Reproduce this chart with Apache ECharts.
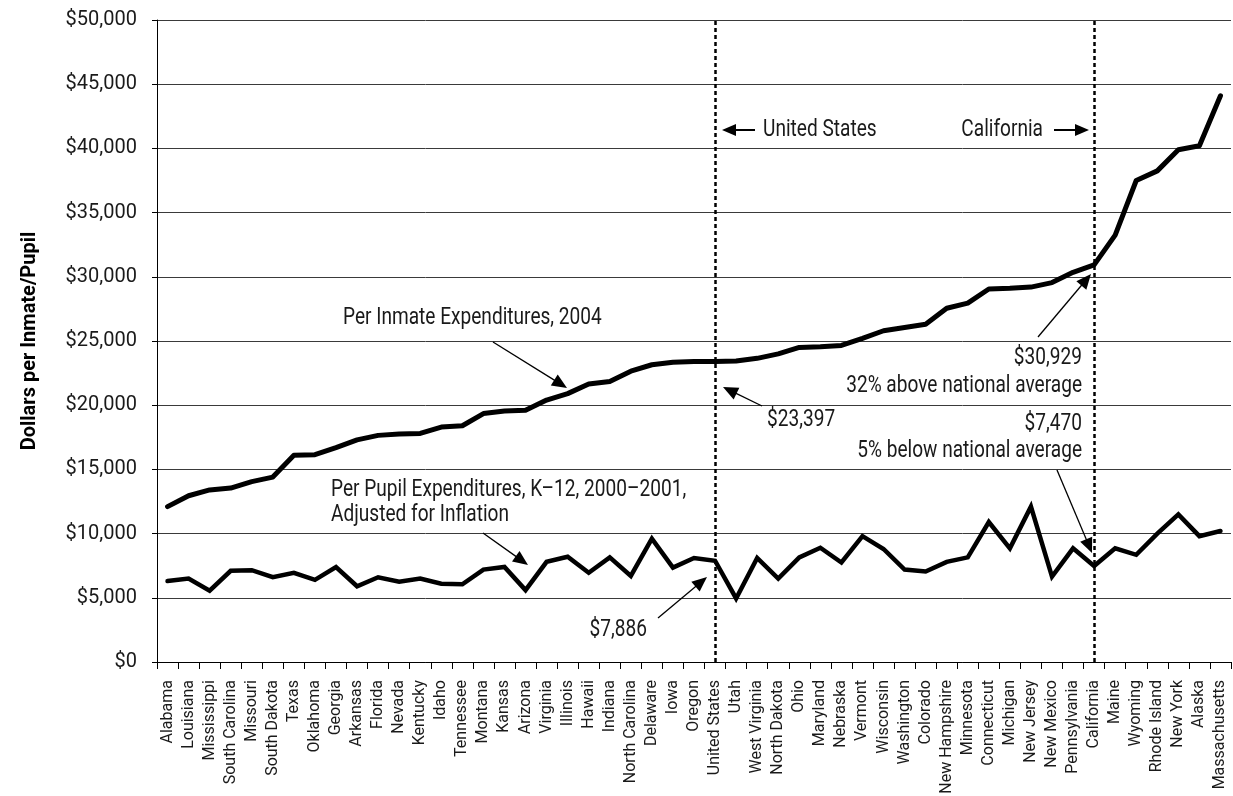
<!DOCTYPE html>
<html>
<head>
<meta charset="utf-8">
<script src="https://cdn.jsdelivr.net/npm/echarts@6/dist/echarts.min.js"></script>
<style>
  html, body { margin: 0; padding: 0; background: #fff; }
  #chart { width: 1233px; height: 796px; }
</style>
</head>
<body>
<div id="chart"></div>
<script>
const categories = ["Alabama","Louisiana","Mississippi","South Carolina","Missouri","South Dakota","Texas","Oklahoma","Georgia","Arkansas","Florida","Nevada","Kentucky","Idaho","Tennessee","Montana","Kansas","Arizona","Virginia","Illinois","Hawaii","Indiana","North Carolina","Delaware","Iowa","Oregon","United States","Utah","West Virginia","North Dakota","Ohio","Maryland","Nebraska","Vermont","Wisconsin","Washington","Colorado","New Hampshire","Minnesota","Connecticut","Michigan","New Jersey","New Mexico","Pennsylvania","California","Maine","Wyoming","Rhode Island","New York","Alaska","Massachusetts"];

const inmateValues = [12100,12950,13400,13550,14050,14400,16100,16150,16700,17300,17650,17750,17800,18300,18400,19350,19550,19600,20400,20900,21650,21850,22650,23150,23350,23400,23397,23450,23650,24000,24500,24550,24650,25200,25800,26050,26300,27550,27950,29050,29100,29200,29550,30350,30929,33250,37500,38250,39900,40200,44100];

const pupilValues = [6300,6500,5550,7100,7150,6600,6950,6400,7400,5900,6600,6250,6500,6100,6050,7200,7400,5600,7800,8200,6950,8150,6700,9600,7350,8100,7886,4950,8100,6500,8150,8900,7750,9800,8800,7200,7050,7800,8150,10900,8850,12100,6650,8850,7470,8850,8350,10000,11500,9800,10200];

const yTicks = { min: 0, max: 50000, interval: 5000 };
const markedCategories = ["United States", "California"];

const FONT = "Roboto, 'Liberation Sans', sans-serif";
const TXT = '#1a1a1a';
const SX = 0.83;

function label(text, x, y, align) {
  return { type: 'text', z: 100, x: x, y: y, scaleX: SX,
    style: { text: text, x: 0, y: 0, align: align || 'left', verticalAlign: 'middle', fontSize: 23, fontFamily: FONT, fill: TXT } };
}
function arrow(x1, y1, x2, y2, w, headLen, headHalf) {
  const dx = x2 - x1, dy = y2 - y1, L = Math.sqrt(dx*dx + dy*dy);
  const ux = dx / L, uy = dy / L, px = -uy, py = ux;
  const bx = x2 - ux * headLen, by = y2 - uy * headLen;
  return [
    { type: 'line', z: 100, shape: { x1: x1, y1: y1, x2: bx + ux, y2: by + uy }, style: { stroke: '#000', lineWidth: w } },
    { type: 'polygon', z: 100, shape: { points: [[x2, y2], [bx + px*headHalf, by + py*headHalf], [bx - px*headHalf, by - py*headHalf]] }, style: { fill: '#000' } }
  ];
}

const chart = echarts.init(document.getElementById('chart'), null, { renderer: 'canvas' });

const graphics = [].concat(
  label('United States', 763, 130),
  arrow(755, 130, 722, 130, 2, 14, 6),
  label('California', 1043, 130, 'right'),
  arrow(1054, 130, 1089, 130, 2, 14, 6),
  label('Per Inmate Expenditures, 2004', 343, 318),
  arrow(493, 342, 567, 388, 1.3, 15, 6.5),
  label('$23,397', 767, 420),
  arrow(762, 406, 723, 387, 1.3, 15, 6.5),
  label('$30,929', 1082, 358, 'right'),
  label('32% above national average', 1082, 386, 'right'),
  arrow(1038, 337, 1091, 274, 1.3, 15, 6.5),
  label('$7,470', 1082, 424, 'right'),
  label('5% below national average', 1082, 451, 'right'),
  arrow(1057, 470, 1092, 553, 1.3, 15, 6.5),
  label('Per Pupil Expenditures, K\u201312, 2000\u20132001,', 331, 490),
  label('Adjusted for Inflation', 331, 515),
  arrow(483, 533, 528, 565, 1.3, 15, 6.5),
  label('$7,886', 647, 630, 'right'),
  arrow(658, 618, 707, 577, 1.3, 15, 6.5)
);

chart.setOption({
  animation: false,
  backgroundColor: '#fff',
  grid: { left: 157, right: 2, top: 20, bottom: 134, containLabel: false, outerBoundsMode: 'none' },
  xAxis: {
    type: 'category',
    data: categories,
    boundaryGap: true,
    axisLine: { lineStyle: { color: '#000', width: 1 } },
    axisTick: { show: true, alignWithLabel: false, length: 7, lineStyle: { color: '#000' } },
    axisLabel: { interval: 0, rotate: 90, fontSize: 16, margin: 18, color: TXT, fontFamily: FONT },
    splitLine: { show: false }
  },
  yAxis: {
    type: 'value',
    min: yTicks.min, max: yTicks.max, interval: yTicks.interval,
    name: 'Dollars per Inmate/Pupil',
    nameLocation: 'middle',
    nameGap: 117,
    nameRotate: 90,
    nameTextStyle: { fontSize: 20, fontWeight: 'bold', color: '#000', fontFamily: FONT },
    axisLine: { show: true, lineStyle: { color: '#000', width: 1 } },
    axisTick: { show: true, length: 5, lineStyle: { color: '#000' } },
    axisLabel: {
      fontSize: 20, margin: 20, color: TXT, fontFamily: FONT,
      formatter: v => '$' + v.toLocaleString('en-US')
    },
    splitLine: { show: true, lineStyle: { color: '#3a3a3a', width: 1 } }
  },
  series: [
    {
      name: 'Per Inmate Expenditures, 2004',
      type: 'line',
      data: inmateValues,
      symbol: 'none',
      lineStyle: { color: '#000', width: 5, join: 'round', cap: 'round' },
      z: 5,
      markLine: {
        silent: true,
        symbol: 'none',
        label: { show: false },
        lineStyle: { color: '#000', width: 2.5, type: [4, 3] },
        data: markedCategories.map(c => ({ xAxis: c }))
      }
    },
    {
      name: 'Per Pupil Expenditures',
      type: 'line',
      data: pupilValues,
      symbol: 'none',
      lineStyle: { color: '#000', width: 4.5, join: 'miter', cap: 'round' },
      z: 5
    }
  ],
  graphic: graphics
});
</script>
</body>
</html>
